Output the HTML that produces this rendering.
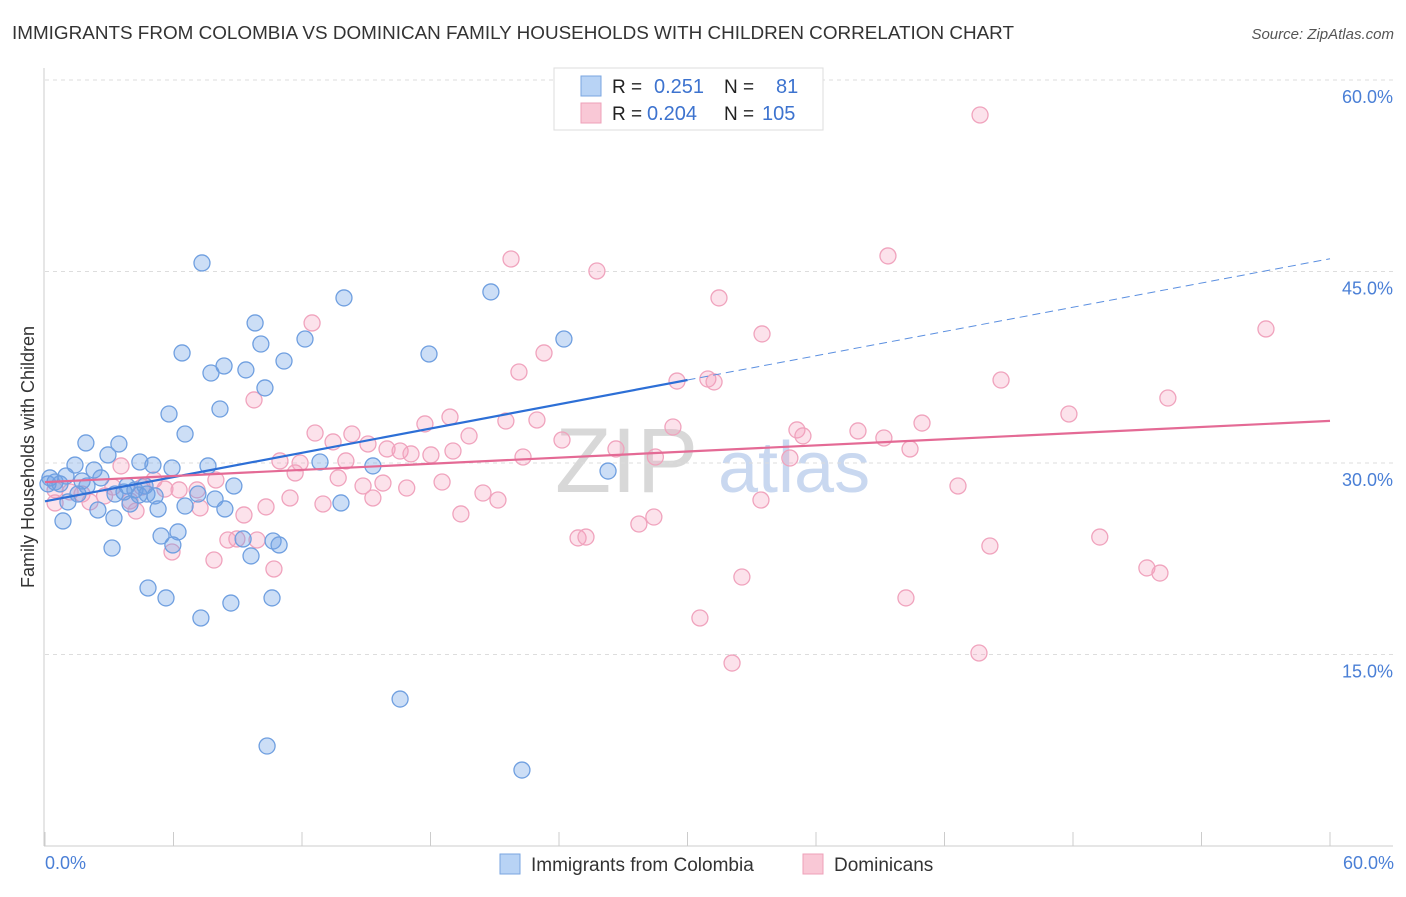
<!DOCTYPE html>
<html><head><meta charset="utf-8"><style>
body{margin:0;background:#fff;font-family:"Liberation Sans",sans-serif}
svg text{font-family:"Liberation Sans",sans-serif}
</style></head><body>
<svg id="chart" width="1406" height="892" xmlns="http://www.w3.org/2000/svg">
<text x="12" y="39" font-size="18.5" fill="#333" textLength="1002" lengthAdjust="spacingAndGlyphs">IMMIGRANTS FROM COLOMBIA VS DOMINICAN FAMILY HOUSEHOLDS WITH CHILDREN CORRELATION CHART</text>
<text x="1394" y="39" font-size="15" fill="#555" text-anchor="end" font-style="italic">Source: ZipAtlas.com</text>
<text x="555" y="492" font-size="92" fill="#d8d8d8" font-family="Liberation Serif">ZIP</text>
<text x="718" y="492" font-size="72" fill="#c9d8f0">atlas</text>
<g id="grid"></g>
<g id="axes"></g>
<g id="marks"></g>
<g id="lines"></g>
<text transform="translate(34,457) rotate(-90)" font-size="18" fill="#333" text-anchor="middle">Family Households with Children</text>
<text x="45" y="869" font-size="18" fill="#4a7fd6">0.0%</text>
<text x="1394" y="869" font-size="18" fill="#4a7fd6" text-anchor="end">60.0%</text>
<g>
<rect x="554" y="68" width="269" height="62" fill="#fff" stroke="#ddd"/>
<rect x="581" y="76" width="20" height="20" fill="#b8d3f5" stroke="#7aa6e0"/>
<rect x="581" y="103" width="20" height="20" fill="#f9c8d6" stroke="#eea0b8"/>
<text x="612" y="93" font-size="19" fill="#222">R = </text><text x="654" y="93" font-size="20" fill="#3d73cf">0.251</text>
<text x="724" y="93" font-size="19" fill="#222">N = </text><text x="776" y="93" font-size="20" fill="#3d73cf">81</text>
<text x="612" y="120" font-size="19" fill="#222">R = </text><text x="647" y="120" font-size="20" fill="#3d73cf">0.204</text>
<text x="724" y="120" font-size="19" fill="#222">N = </text><text x="762" y="120" font-size="20" fill="#3d73cf">105</text>
</g>
<g>
<rect x="500" y="854" width="20" height="20" fill="#b8d3f5" stroke="#7aa6e0"/>
<text x="531" y="871" font-size="19" fill="#333">Immigrants from Colombia</text>
<rect x="803" y="854" width="20" height="20" fill="#f9c8d6" stroke="#eea0b8"/>
<text x="834" y="871" font-size="19" fill="#333">Dominicans</text>
</g>
</svg>
<script>
const yTicks=[15,30,45,60];
const yTickLabels=["15.0%","30.0%","45.0%","60.0%"];
const xTicks=[0,6,12,18,24,30,36,42,48,54,60];
const blueX=[7.33,13.96,20.82,9.81,12.14,10.08,6.40,17.93,24.23,11.16,8.36,7.75,9.38,10.27,8.17,5.79,6.54,1.91,3.45,2.94,4.43,1.40,5.04,7.61,5.93,12.84,15.31,26.29,2.29,0.98,2.61,1.73,0.47,0.14,0.70,1.96,3.83,4.67,8.82,4.20,3.69,1.54,3.27,4.39,4.76,7.14,5.14,7.94,1.07,3.97,6.54,8.40,5.28,2.47,13.82,0.84,3.22,6.21,5.42,9.25,10.65,10.93,5.97,3.13,9.62,4.81,5.65,10.60,8.68,7.28,16.58,10.37,22.27,0.23];
const blueY=[45.67,42.93,43.40,40.97,39.71,39.32,38.62,38.54,39.71,37.99,37.60,37.05,37.29,35.88,34.23,33.84,32.27,31.57,31.49,30.63,30.08,29.84,29.84,29.77,29.61,30.08,29.77,29.37,29.45,28.98,28.83,28.59,28.51,28.36,28.36,28.20,28.20,28.20,28.20,27.89,27.73,27.57,27.57,27.49,27.57,27.57,27.42,27.18,26.95,26.79,26.63,26.40,26.40,26.32,26.87,25.46,25.69,24.60,24.28,24.05,23.89,23.58,23.58,23.34,22.72,20.21,19.43,19.43,19.03,17.86,11.51,7.83,5.95,28.83];
const pinkX=[43.66,39.36,21.76,25.77,31.47,12.47,57.01,33.48,23.30,22.13,30.95,31.24,29.51,44.64,9.76,52.43,47.81,18.91,21.52,22.97,40.95,17.74,29.32,35.11,37.96,12.61,14.33,35.39,19.80,39.17,13.45,24.14,15.08,15.97,16.58,17.09,18.02,19.05,26.66,40.39,22.32,28.50,34.78,10.97,11.91,14.05,3.55,11.68,13.69,5.09,7.98,15.78,18.54,14.85,16.89,42.63,3.17,4.53,5.60,6.26,7.10,0.47,1.17,1.73,2.78,20.45,21.15,11.44,15.31,33.43,3.97,0.47,12.98,2.10,10.32,7.24,4.25,19.42,9.29,28.43,27.73,49.25,24.89,25.26,8.54,8.96,9.90,44.12,5.93,7.89,10.69,51.45,52.06,32.54,40.20,30.58,43.61,32.08];
const pinkY=[57.26,46.22,45.98,45.04,42.93,40.97,40.50,40.11,38.62,37.13,36.58,36.35,36.42,36.50,34.94,35.09,33.84,33.60,33.29,33.37,33.13,33.06,32.82,32.59,32.51,32.35,32.27,32.12,32.12,31.96,31.65,31.80,31.49,31.10,30.94,30.71,30.63,30.94,31.10,31.10,30.47,30.47,30.39,30.16,30.00,30.16,29.77,29.22,28.83,28.67,28.67,28.43,28.51,28.20,28.04,28.20,28.12,28.12,27.96,27.89,27.89,27.89,27.73,27.57,27.42,27.65,27.10,27.26,27.26,27.10,27.03,26.87,26.79,26.95,26.56,26.48,26.24,26.01,25.93,25.77,25.22,24.20,24.13,24.20,23.97,24.05,23.97,23.50,23.03,22.40,21.70,21.78,21.38,21.07,19.43,17.86,15.12,14.33];
const blueTrend=[27.0,36.5,46.0];
const pinkTrend=[28.5,33.3];
const NS='http://www.w3.org/2000/svg';
const sx=v=>45+v/60*1285, sy=v=>846-v/15*191.5;
function mk(t,a,p){const e=document.createElementNS(NS,t);for(const k in a)e.setAttribute(k,a[k]);document.getElementById(p).appendChild(e);return e;}
yTicks.forEach((t,i)=>{
 const g=mk('line',{x1:45,x2:1393,y1:sy(t),y2:sy(t),stroke:'#ddd','stroke-dasharray':'4,4'},'grid');
 
 
 const l=mk('text',{x:1393,y:sy(t)+23,'font-size':18,fill:'#4a7fd6','text-anchor':'end'},'grid');
 l.textContent=yTickLabels[i];
 
 
});
const ax=mk('line',{x1:44,x2:44,y1:68,y2:846,stroke:'#ccc'},'axes');


const bx=mk('line',{x1:44,x2:1393,y1:846,y2:846,stroke:'#ccc'},'axes');


xTicks.forEach(t=>{
 const k=mk('line',{x1:sx(t),x2:sx(t),y1:832,y2:846,stroke:'#ccc'},'axes');
 
 
});
function pts(xs,ys,fill,stroke,name){xs.forEach((x,i)=>{
 const c=mk('circle',{cx:sx(x),cy:sy(ys[i]),r:8,fill:fill,stroke:stroke,'stroke-width':1.3},'marks');
 
 
});}
pts(pinkX,pinkY,'rgba(244,160,188,0.3)','#f0a3bd','dominicans-point');
pts(blueX,blueY,'rgba(110,160,230,0.35)','#6f9fe0','colombia-point');
const b1=mk('line',{x1:sx(0),y1:sy(blueTrend[0]),x2:sx(30),y2:sy(blueTrend[1]),stroke:'#2d6fd6','stroke-width':2.2},'lines');


const b2=mk('line',{x1:sx(30),y1:sy(blueTrend[1]),x2:sx(60),y2:sy(blueTrend[2]),stroke:'#5b8fe0','stroke-width':1,'stroke-dasharray':'8,5'},'lines');


const p1=mk('line',{x1:sx(0),y1:sy(pinkTrend[0]),x2:sx(60),y2:sy(pinkTrend[1]),stroke:'#e46a95','stroke-width':2.2},'lines');


</script>
</body></html>
